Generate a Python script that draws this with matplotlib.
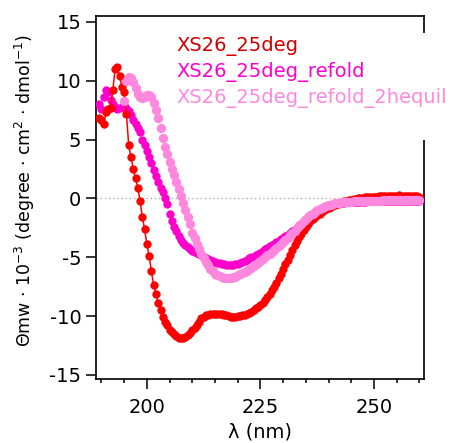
import numpy as np
import matplotlib
matplotlib.use("Agg")
import matplotlib.pyplot as plt
from matplotlib.patches import Rectangle

plt.rcParams['axes.unicode_minus'] = False
plt.rcParams['font.family'] = ['DejaVu Sans']

# CD spectra, 0.5 nm steps
wl_native = np.arange(189.5, 260.01, 0.5)
theta_native = [
    6.8, 6.7, 6.3, 7.3, 7.6, 7.7, 9.2, 11.0, 11.2, 10.4,
    9.5, 9.0, 7.2, 4.5, 3.5, 2.5, 1.7, 0.9, -0.2, -1.6,
    -2.6, -3.9, -4.9, -6.2, -7.4, -8.1, -8.9, -9.5, -10.1, -10.5,
    -10.8, -11.15, -11.35, -11.55, -11.7, -11.85, -11.9, -11.85, -11.8, -11.6,
    -11.4, -11.2, -11.0, -10.8, -10.5, -10.2, -10.05, -9.95, -9.9, -9.85,
    -9.85, -9.85, -9.85, -9.85, -9.85, -9.9, -9.95, -10.0, -10.05, -10.05,
    -10.05, -10.0, -10.0, -9.95, -9.9, -9.85, -9.75, -9.65, -9.5, -9.35,
    -9.2, -9.05, -8.85, -8.6, -8.35, -8.1, -7.8, -7.5, -7.15, -6.8,
    -6.4, -6.0, -5.6, -5.2, -4.8, -4.4, -4.0, -3.6, -3.3, -3.0,
    -2.7, -2.4, -2.15, -1.95, -1.75, -1.6, -1.45, -1.3, -1.15, -1.0,
    -0.9, -0.8, -0.7, -0.6, -0.52, -0.45, -0.38, -0.3, -0.25, -0.2,
    -0.15, -0.1, -0.06, -0.02, 0.0, 0.03, 0.06, 0.08, 0.1, 0.12,
    0.13, 0.15, 0.14, 0.16, 0.17, 0.17, 0.16, 0.18, 0.17, 0.19,
    0.2, 0.22, 0.25, 0.2, 0.18, 0.17, 0.18, 0.17, 0.16, 0.18,
    0.2, 0.15,
]

wl_refold = np.arange(189.5, 260.01, 0.5)
theta_refold = [
    8.0, 7.6, 8.6, 9.2, 9.0, 8.4, 8.0, 7.8, 7.6, 7.7,
    7.8, 7.9, 7.7, 7.4, 7.1, 6.7, 6.3, 6.0, 5.6, 5.0,
    4.5, 4.0, 3.5, 3.0, 2.4, 1.9, 1.4, 0.9, 0.5, 0.0,
    -0.5, -1.3, -1.9, -2.4, -2.8, -3.2, -3.5, -3.75, -3.95, -4.15,
    -4.3, -4.45, -4.55, -4.65, -4.75, -4.85, -4.95, -5.05, -5.15, -5.25,
    -5.35, -5.4, -5.45, -5.5, -5.55, -5.6, -5.65, -5.7, -5.7, -5.65,
    -5.6, -5.55, -5.5, -5.4, -5.3, -5.2, -5.1, -5.0, -4.95, -4.85,
    -4.75, -4.65, -4.5, -4.3, -4.2, -4.05, -3.95, -3.85, -3.7, -3.6,
    -3.45, -3.35, -3.2, -3.1, -2.95, -2.8, -2.65, -2.5, -2.3, -2.15,
    -1.95, -1.8, -1.65, -1.5, -1.35, -1.2, -1.05, -0.95, -0.85, -0.75,
    -0.68, -0.6, -0.55, -0.5, -0.46, -0.42, -0.4, -0.37, -0.35, -0.33,
    -0.32, -0.3, -0.3, -0.29, -0.28, -0.28, -0.27, -0.27, -0.26, -0.26,
    -0.25, -0.25, -0.25, -0.24, -0.24, -0.23, -0.23, -0.24, -0.22, -0.22,
    -0.21, -0.22, -0.21, -0.2, -0.2, -0.21, -0.2, -0.19, -0.2, -0.18,
    -0.19, -0.18,
]

wl_equil = np.arange(195.0, 260.01, 0.5)
theta_equil = [
    8.3, 10.0, 10.3, 10.2, 9.9, 9.4, 8.9, 8.6, 8.5, 8.6,
    8.8, 8.8, 8.6, 8.1, 7.5, 6.8, 6.0, 5.1, 4.4, 3.8,
    3.1, 2.5, 2.0, 1.4, 0.8, 0.2, -0.4, -1.0, -1.6, -2.2,
    -2.9, -3.4, -3.9, -4.3, -4.7, -5.1, -5.4, -5.7, -6.0, -6.2,
    -6.4, -6.5, -6.6, -6.7, -6.75, -6.8, -6.8, -6.75, -6.7, -6.65,
    -6.55, -6.45, -6.35, -6.25, -6.15, -6.0, -5.9, -5.75, -5.6, -5.45,
    -5.3, -5.15, -5.0, -4.85, -4.7, -4.55, -4.4, -4.2, -4.05, -3.85,
    -3.7, -3.5, -3.35, -3.15, -2.95, -2.75, -2.55, -2.35, -2.15, -1.95,
    -1.75, -1.6, -1.45, -1.3, -1.15, -1.02, -0.9, -0.8, -0.72, -0.64,
    -0.57, -0.52, -0.47, -0.43, -0.4, -0.37, -0.34, -0.32, -0.3, -0.28,
    -0.27, -0.26, -0.25, -0.24, -0.23, -0.22, -0.22, -0.21, -0.2, -0.2,
    -0.19, -0.19, -0.18, -0.18, -0.17, -0.17, -0.17, -0.16, -0.16, -0.15,
    -0.15, -0.15, -0.14, -0.14, -0.14, -0.13, -0.13, -0.13, -0.12, -0.12,
    -0.12,
]

labels = ['XS26_25deg', 'XS26_25deg_refold', 'XS26_25deg_refold_2hequil']
colors = ['#ff0000', '#ff00cc', '#ff88de']
text_colors = ['#d00000', '#ff00cc', '#ff88de']

xticks = [200, 225, 250]
yticks = [-15, -10, -5, 0, 5, 10, 15]

W, H = 452, 443
fig = plt.figure(figsize=(W / 100, H / 100), dpi=100)
ax = fig.add_axes([96 / W, 64 / H, 328 / W, 363 / H])

ax.axhline(0, color='#aaaaaa', ls=(0, (1, 2)), lw=1, zorder=1)
ax.plot(wl_refold, theta_refold, 'o', color=colors[1], ms=6.0, mew=0, zorder=3)
ax.plot(wl_native, theta_native, '-o', color=colors[0], ms=6.0, mew=0, lw=1.1, zorder=4)
ax.plot(wl_equil, theta_equil, 'o', color=colors[2], ms=6.7, mew=0, zorder=5)

ax.set_xlim(188.8, 261.0)
ax.set_ylim(-15.35, 15.5)
ax.set_xticks(xticks)
ax.set_xticks(np.arange(190, 261, 5), minor=True)
ax.set_yticks(yticks)
ax.set_yticklabels([str(v) for v in yticks])

for s in ax.spines.values():
    s.set_linewidth(1.2)
ax.tick_params(axis='x', which='major', length=7.5, width=1.1, pad=6, labelsize=14, direction='out')
ax.tick_params(axis='x', which='minor', length=3, width=1.1, direction='out')
ax.tick_params(axis='y', which='major', length=7.5, width=1.1, pad=3, labelsize=14, direction='out')

ax.set_xlabel('λ (nm)', fontsize=14, labelpad=4)
ax.set_ylabel(r'Θmw · 10$^{-3}$ (degree · cm$^{2}$ · dmol$^{-1}$)', fontsize=12.5)
ax.yaxis.set_label_coords(-0.18, 0.52)

# legend: white box over the right spine, coloured labels
fig.add_artist(Rectangle((170 / W, 1 - 140 / H), (W - 170) / W, 107 / H,
                         transform=fig.transFigure, facecolor='white',
                         edgecolor='none', zorder=5))
for i, (lab, c) in enumerate(zip(labels, text_colors)):
    fig.text(176 / W, 1 - (46 + 26 * i) / H, lab, color=c, fontsize=14,
             ha='left', va='center', zorder=6)

fig.savefig('out.png', dpi=100)
